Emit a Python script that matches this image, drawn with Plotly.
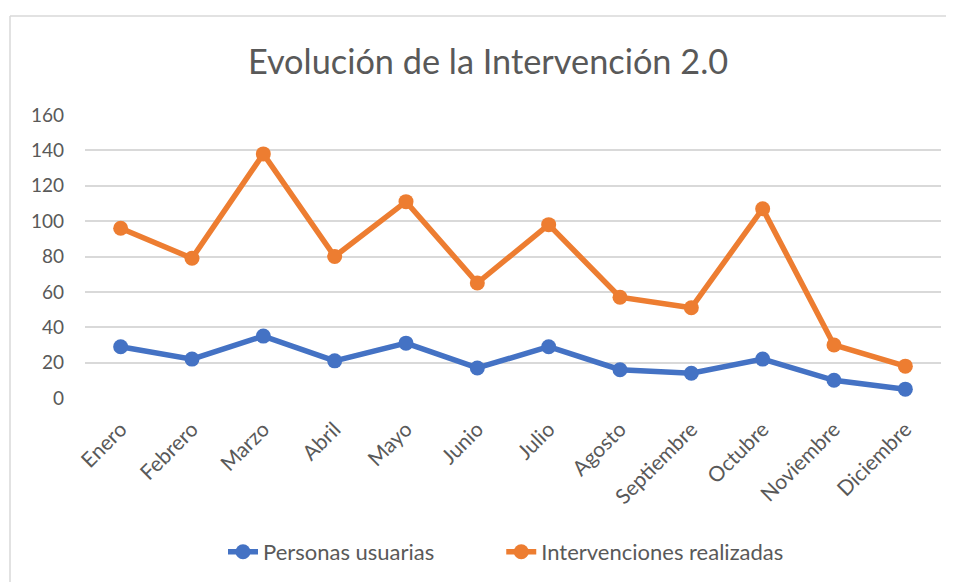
import plotly.graph_objects as go

meses = ["Enero", "Febrero", "Marzo", "Abril", "Mayo", "Junio", "Julio",
         "Agosto", "Septiembre", "Octubre", "Noviembre", "Diciembre"]
personas_usuarias = [29, 22, 35, 21, 31, 17, 29, 16, 14, 22, 10, 5]
intervenciones_realizadas = [96, 79, 138, 80, 111, 65, 98, 57, 51, 107, 30, 18]
y_ticks = [0, 20, 40, 60, 80, 100, 120, 140, 160]

FONT = "Lato"
TXT = "#595959"
GAP = "\u00a0" * 11

fig = go.Figure()
fig.add_trace(go.Scatter(
    x=meses, y=personas_usuarias, name="Personas usuarias" + GAP,
    mode="lines+markers",
    line=dict(color="#4472C4", width=5.5),
    marker=dict(color="#4472C4", size=15),
))
fig.add_trace(go.Scatter(
    x=meses, y=intervenciones_realizadas, name="Intervenciones realizadas",
    mode="lines+markers",
    line=dict(color="#ED7D31", width=5.5),
    marker=dict(color="#ED7D31", size=15),
))

border = dict(color="#D9D9D9", width=1.5)
bx = (10 - 85) / 856
by = 1 + (115 - 16) / 283

fig.update_layout(
    width=954, height=582,
    margin=dict(l=77, r=21, t=107, b=192),
    paper_bgcolor="white", plot_bgcolor="white",
    font=dict(family=FONT, color=TXT, size=20),
    title=dict(text="Evolución de la Intervención 2.0",
               x=(488 - 8) / 954, xanchor="center",
               y=1 - 54 / 582, yanchor="middle",
               font=dict(family=FONT, size=34.3, color=TXT)),
    showlegend=True,
    legend=dict(orientation="h", x=(223 - 85) / 856, xanchor="left",
                y=-0.544, yanchor="middle",
                font=dict(family=FONT, size=22, color=TXT),
                tracegroupgap=0),
    xaxis=dict(type="category", range=[-0.5, 11.5], tickangle=-45,
               showgrid=False, showline=False, ticks="",
               ticklabelstandoff=14,
               tickfont=dict(family=FONT, size=21, color=TXT)),
    yaxis=dict(range=[0, 160], tickvals=y_ticks, showgrid=True,
               gridcolor="#D9D9D9", gridwidth=1.5, zeroline=False,
               showline=False, ticks="", ticklabelstandoff=20,
               tickfont=dict(family=FONT, size=19, color=TXT)),
    shapes=[
        dict(type="line", xref="paper", yref="paper",
             x0=bx, x1=bx, y0=-1.0, y1=by, line=border, layer="below"),
        dict(type="line", xref="paper", yref="paper",
             x0=bx, x1=1.2, y0=by, y1=by, line=border, layer="below"),
    ],
)

fig.write_html("out.html")
